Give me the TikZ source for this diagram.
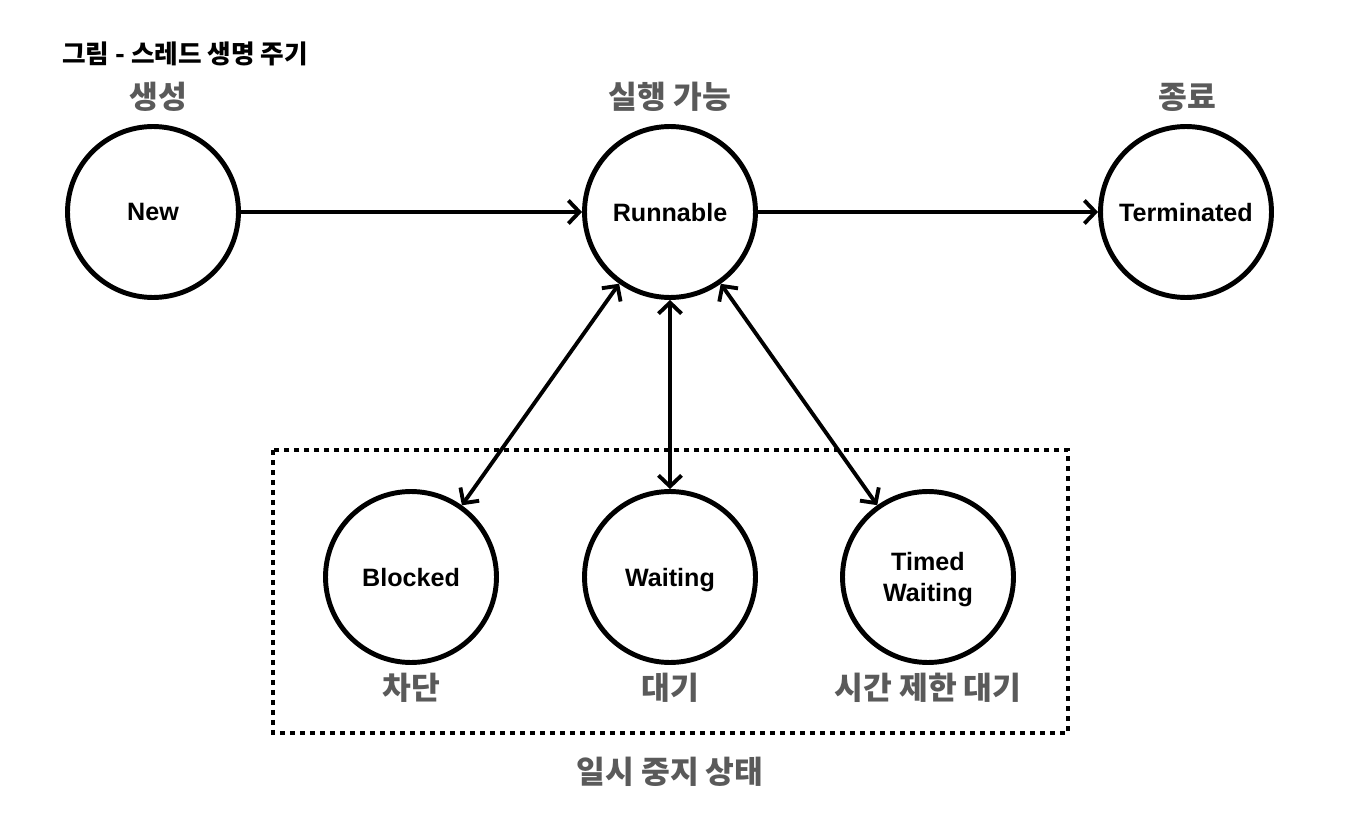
\documentclass[tikz,border=0pt]{standalone}
\usepackage{fontspec}
\setmainfont{Liberation Sans}
\newfontfamily\krfont{Noto Sans CJK KR}
\usepackage{tikz}
\usetikzlibrary{arrows.meta}
\definecolor{labelgray}{HTML}{5A5A5A}

\begin{document}
\begin{tikzpicture}[x=0.02cm, y=-0.02cm,
    state/.style={circle, draw, line width=2.8pt, minimum size=3.42cm, inner sep=0pt,
      text depth=0pt, align=center, font=\fontsize{14.3}{17.6}\selectfont\bfseries},
    caption/.style={text=labelgray, font=\krfont\fontsize{17.8}{20}\selectfont\bfseries},
    flow/.style={line width=2.2pt, -{Straight Barb[length=0.22cm, width=0.46cm]}},
    both/.style={line width=2.2pt, {Straight Barb[length=0.22cm, width=0.46cm]}-{Straight Barb[length=0.22cm, width=0.46cm]}}]
  \useasboundingbox (0,0) rectangle (1346,838);
  % title
  \node [anchor=west, inner sep=0pt, font=\krfont\fontsize{14.6}{16}\selectfont\bfseries] (title) at (62,54) {그림 - 스레드 생명 주기};
  % states
  \node [state] (new) at (153,212) {New};
  \node [state] (run) at (670,212) {Runnable};
  \node [state] (term) at (1186,212) {Terminated};
  \node [state] (block) at (411,577) {Blocked};
  \node [state] (wait) at (670,577) {Waiting};
  \node [state] (timed) at (928,577) {Timed\\Waiting};
  % labels
  \node [caption] (newlbl) at (158,97) {생성};
  \node [caption] (runlbl) at (670,97) {실행 가능};
  \node [caption] (termlbl) at (1187,97) {종료};
  \node [caption] (blocklbl) at (411,688) {차단};
  \node [caption] (waitlbl) at (670,688) {대기};
  \node [caption] (timedlbl) at (928,688) {시간 제한 대기};
  \node [caption] (pauselbl) at (670,772) {일시 중지 상태};
  % paused group
  \draw [line width=2.8pt, dash pattern=on 0.1cm off 0.1cm] (273,450) rectangle (1068,733);
  % transitions
  \draw [flow] (new) -- (run);
  \draw [flow] (run) -- (term);
  \draw [both] (run) -- (block);
  \draw [both] (run) -- (wait);
  \draw [both] (run) -- (timed);
\end{tikzpicture}
\end{document}
